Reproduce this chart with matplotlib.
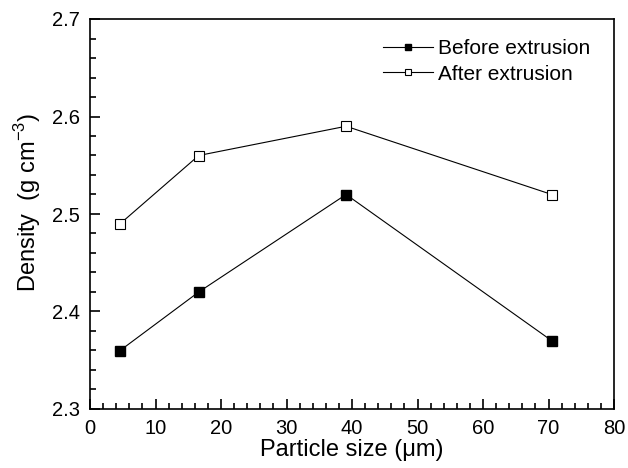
import matplotlib
matplotlib.use("Agg")
import matplotlib.pyplot as plt
from matplotlib.ticker import MultipleLocator

plt.rcParams['font.family'] = ['Liberation Sans', 'DejaVu Sans']
plt.rcParams['mathtext.fontset'] = 'custom'
plt.rcParams['mathtext.rm'] = 'Liberation Sans'

particle_size = [4.6, 16.6, 39.1, 70.5]
before = [2.36, 2.42, 2.52, 2.37]
after = [2.49, 2.56, 2.59, 2.52]

fig = plt.figure(figsize=(6.28, 4.68), dpi=100)
ax = fig.add_axes([90/628, 1 - 409/468, (614-90)/628, (409-19)/468])

ax.plot(particle_size, before, color='black', lw=0.8, marker='s', ms=6.5,
        mfc='black', mec='black', label='Before extrusion')
ax.plot(particle_size, after, color='black', lw=0.8, marker='s', ms=6.5,
        mfc='white', mec='black', mew=0.8, label='After extrusion')

ax.set_xlim(0, 80)
ax.set_ylim(2.3, 2.7)
ax.xaxis.set_major_locator(MultipleLocator(10))
ax.xaxis.set_minor_locator(MultipleLocator(2))
ax.yaxis.set_major_locator(MultipleLocator(0.1))
ax.yaxis.set_minor_locator(MultipleLocator(0.02))
ax.tick_params(which='both', direction='in', labelsize=14.5, width=1.2)
ax.tick_params(which='major', length=7, pad=7)
ax.tick_params(which='minor', length=4)
for s in ax.spines.values():
    s.set_linewidth(1.2)

ax.set_xlabel('Particle size (μm)', fontsize=17, labelpad=1)
ax.set_ylabel('Density  (g cm$^{-3}$)', fontsize=17)
ax.yaxis.set_label_coords(-0.09, 0.53)

leg = ax.legend(loc='upper right', frameon=False, fontsize=15, handlelength=2.4,
                handletextpad=0.25, borderaxespad=0, borderpad=0, labelspacing=0.3,
                bbox_to_anchor=(0.955, 0.948), markerscale=0.75)

fig.savefig('out.png', dpi=100)
